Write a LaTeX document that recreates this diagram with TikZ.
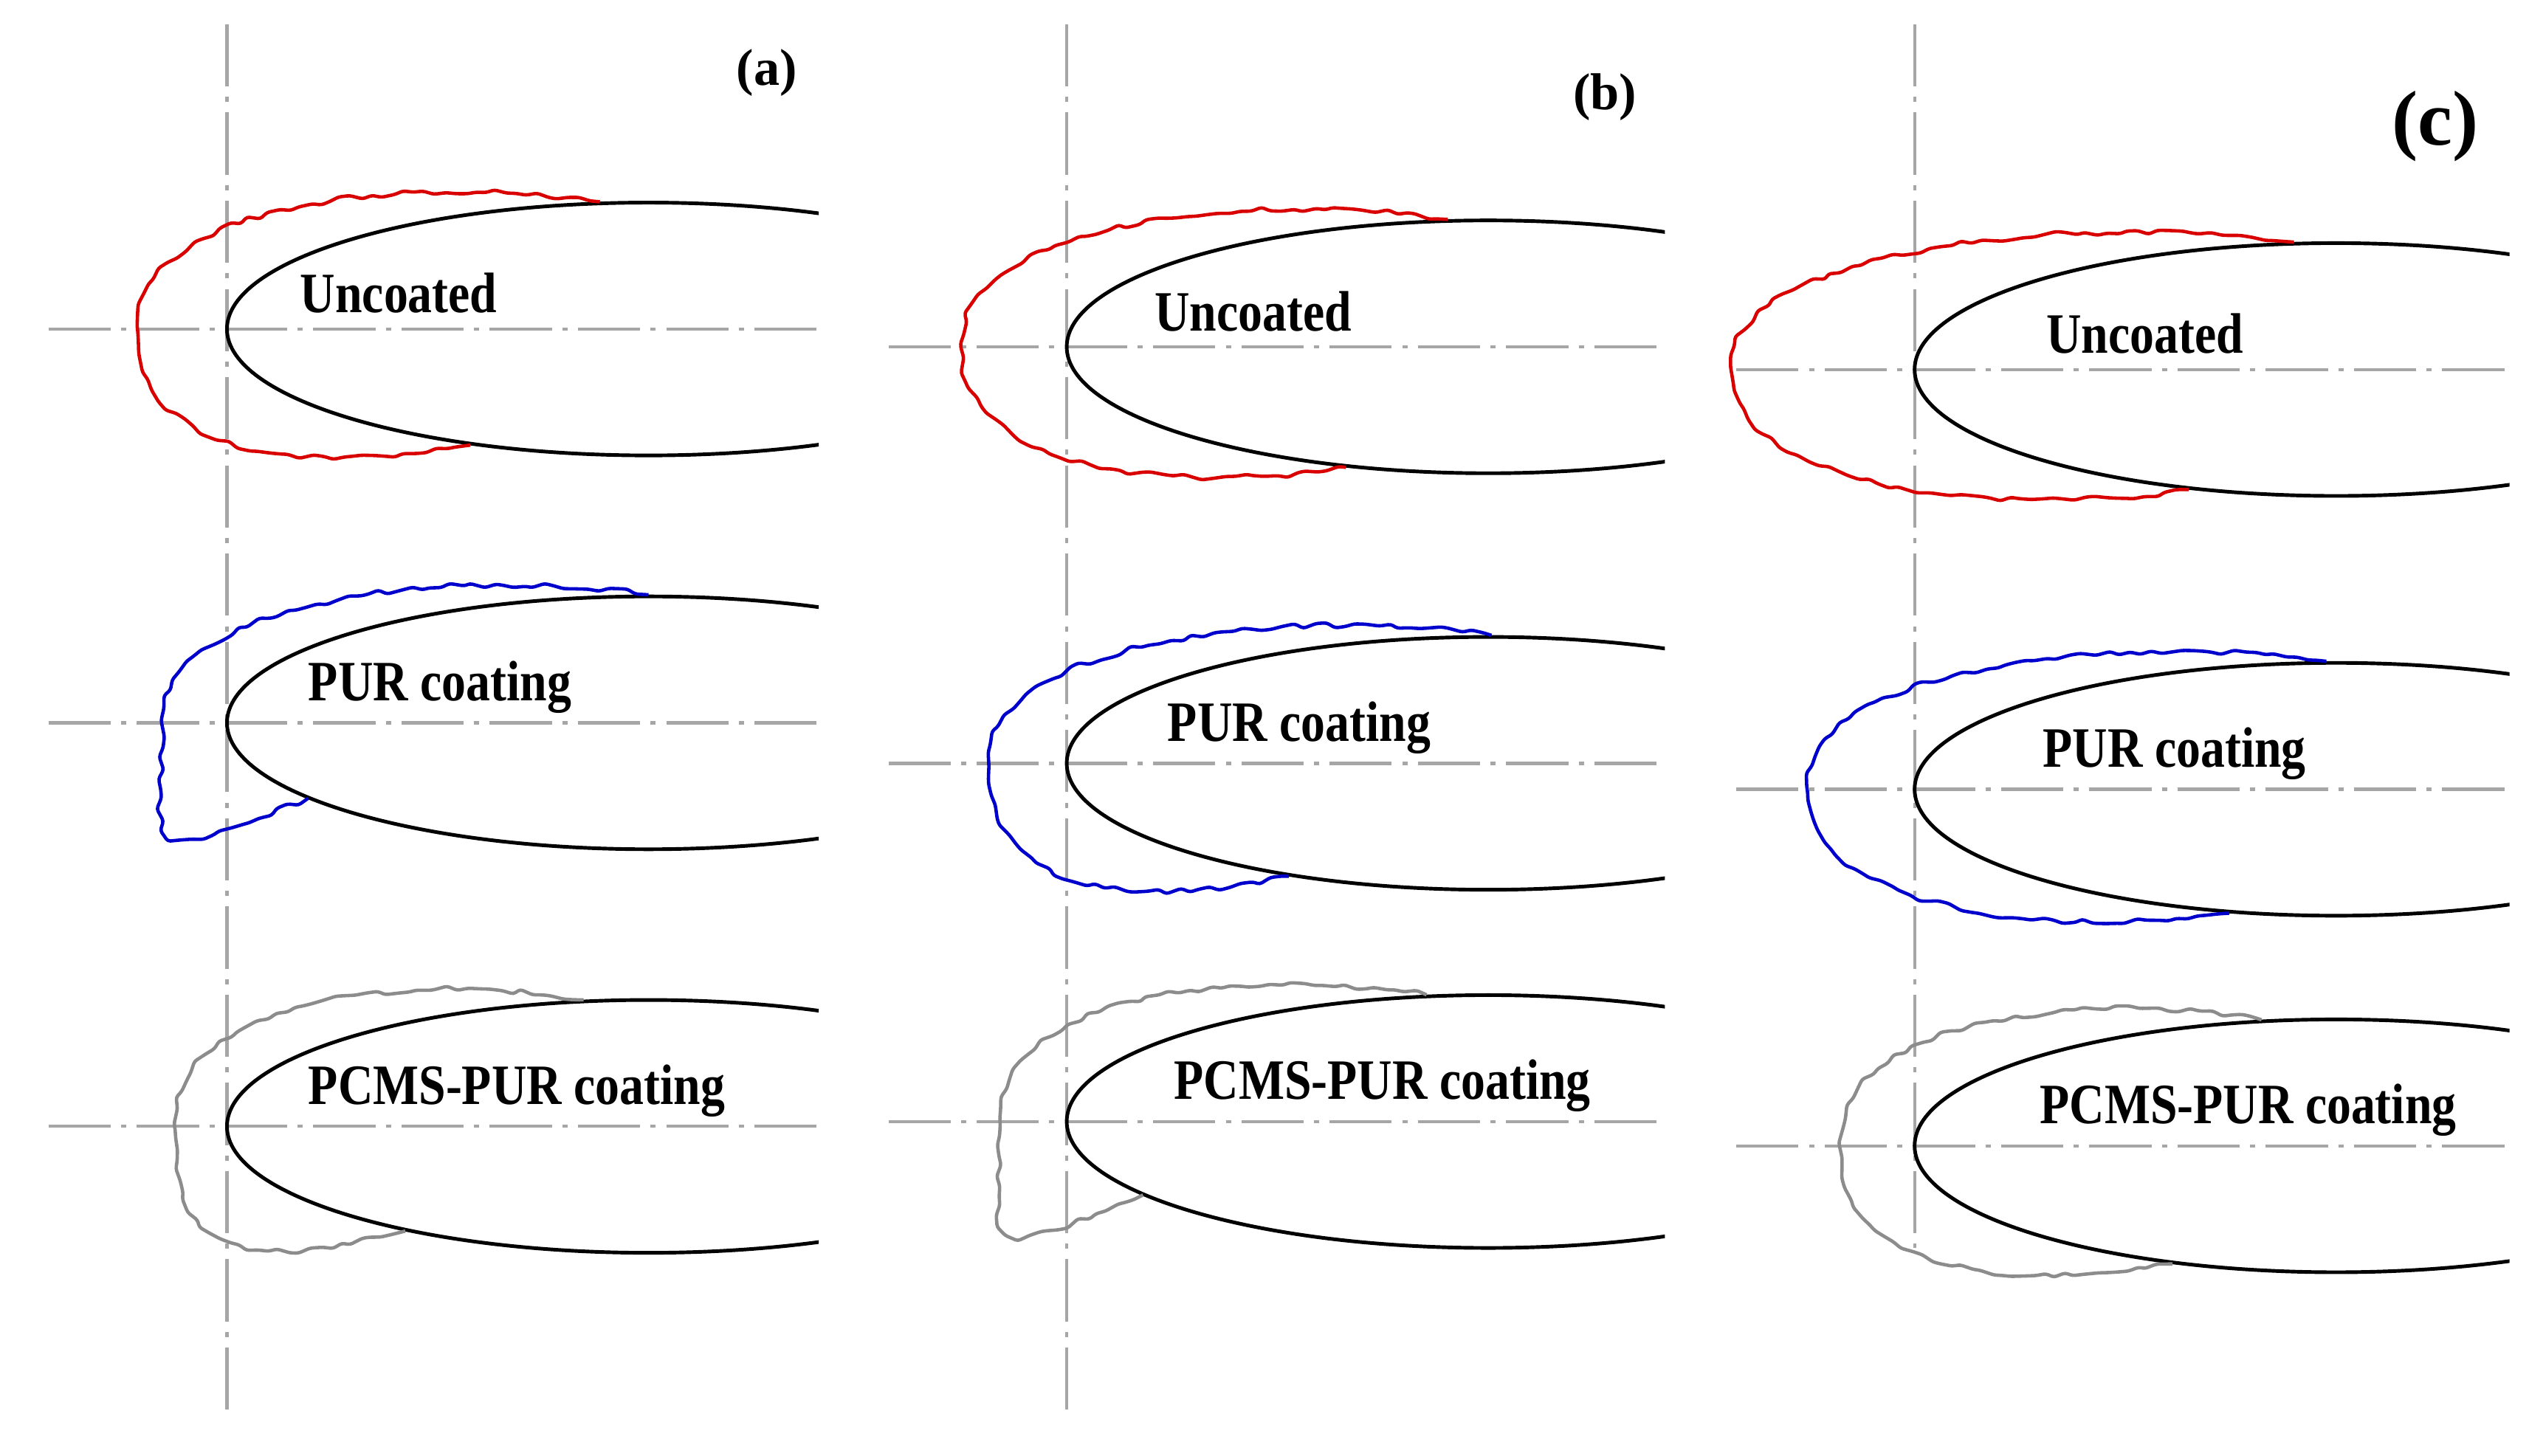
\documentclass[tikz,border=0pt]{standalone}
\usepackage{fontspec}
\setmainfont{Liberation Serif}
\usetikzlibrary{decorations.pathmorphing}
\begin{document}
\begin{tikzpicture}[x=0.02196cm,y=-0.02196cm,
  axis/.style={draw=black!35,line width=1.2pt,dash pattern=on 24pt off 4pt on 2pt off 4pt},
  prof/.style={line width=1.4pt},
  lab/.style={font=\bfseries\fontsize{22}{24}\selectfont,xscale=0.85,inner sep=0},
  tag/.style={font=\bfseries\fontsize{20}{22}\selectfont,inner sep=0},
  rough/.style={line width=1.3pt,decorate,decoration={random steps,segment length=4pt,amplitude=1.1pt},rounded corners=1pt}]
\useasboundingbox (0,0) rectangle (1560,898);
\fill[white] (0,0) rectangle (1560,898);
\pgfmathsetseed{7}
% #1 L, #2 cy, #3 right clip, #4 text, #5 tx
\newcommand\airfoil[5]{%
  \draw[axis] (#1-110,#2) -- (#3,#2);
  \begin{scope}\clip (#1-5,#2-90) rectangle (#3,#2+90);
  \draw[prof] (#1+260,#2) ellipse (260 and 78);\end{scope}
  \node[lab,anchor=west] at (#5,#2-22) {#4};}
% #1 color #2 cy #3 left #4 topx #5 botx #6 L
\newcommand\ice[6]{%
  \pgfmathsetmacro\ta{79*sqrt(max(0,1-(max(0,#6+260-#4)/260)^2))}%
  \pgfmathsetmacro\tb{79*sqrt(max(0,1-(max(0,#6+260-#5)/260)^2))}%
  \draw[rough,#1] (#4,#2-\ta) .. controls (#4-110,#2-96) and (#3,#2-80) .. (#3,#2)
    .. controls (#3,#2+75) and (#5-110,#2+92) .. (#5,#2+\tb);}
% verticals
\draw[axis] (140,15) -- (140,875);
\draw[axis] (658,15) -- (658,875);
\draw[axis] (1181,15) -- (1181,770);
% panel a
\airfoil{140}{203}{505}{Uncoated}{185}
\airfoil{140}{446}{505}{PUR coating}{190}
\airfoil{140}{695}{505}{PCMS-PUR coating}{190}
\ice{red!85!black}{203}{85}{370}{290}{140}
\ice{blue!80!black}{446}{100}{400}{190}{140}
\ice{black!45}{695}{108}{360}{250}{140}
\node[tag] at (473,45) {(a)};
% panel b
\airfoil{658}{214}{1027}{Uncoated}{712}
\airfoil{658}{471}{1027}{PUR coating}{720}
\airfoil{658}{692}{1027}{PCMS-PUR coating}{724}
\ice{red!85!black}{214}{593}{893}{830}{658}
\ice{blue!80!black}{471}{610}{920}{795}{658}
\ice{black!45}{692}{617}{880}{705}{658}
\node[tag] at (990,60) {(b)};
% panel c
\airfoil{1181}{228}{1548}{Uncoated}{1262}
\airfoil{1181}{487}{1548}{PUR coating}{1260}
\airfoil{1181}{707}{1548}{PCMS-PUR coating}{1258}
\ice{red!85!black}{228}{1068}{1415}{1350}{1181}
\ice{blue!80!black}{487}{1115}{1435}{1375}{1181}
\ice{black!45}{707}{1135}{1395}{1340}{1181}
\node[tag,font=\bfseries\fontsize{30}{32}\selectfont] at (1502,78) {(c)};
\end{tikzpicture}
\end{document}
